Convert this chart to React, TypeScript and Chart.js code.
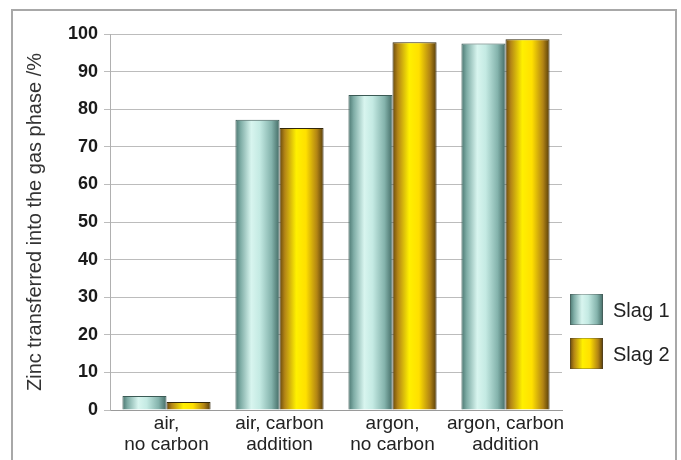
import { useEffect, useRef } from "react";
import { Chart, registerables } from "chart.js";

Chart.register(...registerables);

// Experimental conditions along the x axis (two-line labels)
const categories: string[][] = [
  ["air,", "no carbon"],
  ["air, carbon", "addition"],
  ["argon,", "no carbon"],
  ["argon, carbon", "addition"],
];

const seriesNames = ["Slag 1", "Slag 2"];

// Zinc transferred into the gas phase, %
const slag1Values = [3.7, 77.2, 83.8, 97.5];
const slag2Values = [2.1, 75.0, 97.8, 98.6];

const yMin = 0;
const yMax = 100;
const yStep = 10;

const yAxisTitle = "Zinc transferred into the gas phase /%";

const FONT = "'Liberation Sans', Arial, Helvetica, sans-serif";

// Horizontal shading stops giving each bar a cylinder look
const cylinderStops: [number, string][][] = [
  [
    [0, "#4a7670"],
    [0.12, "#7fada6"],
    [0.36, "#d8f5ef"],
    [0.55, "#c4eae3"],
    [0.82, "#84b3ac"],
    [1, "#436b65"],
  ],
  [
    [0, "#66480d"],
    [0.12, "#b38516"],
    [0.38, "#fff000"],
    [0.6, "#ffe000"],
    [0.85, "#b28414"],
    [1, "#553c0a"],
  ],
];

const edgeColors = ["#3b5a55", "#33270a"];

function makeGradient(
  ctx: CanvasRenderingContext2D,
  x0: number,
  x1: number,
  stops: [number, string][]
) {
  const g = ctx.createLinearGradient(x0, 0, x1, 0);
  stops.forEach(([o, c]) => g.addColorStop(o, c));
  return g;
}

// Replace each bar's flat fill with a shaded gradient spanning its own width
const cylinderFill = {
  id: "cylinderFill",
  beforeDatasetsDraw(chart: any) {
    const ctx = chart.ctx as CanvasRenderingContext2D;
    chart.data.datasets.forEach((_ds: any, di: number) => {
      const meta = chart.getDatasetMeta(di);
      meta.data.forEach((el: any) => {
        const { x, width } = el.getProps(["x", "width"], true);
        el.options = {
          ...el.options,
          backgroundColor: makeGradient(ctx, x - width / 2, x + width / 2, cylinderStops[di]),
        };
      });
    });
  },
};

// Legend with shaded swatches to the right of the plot
const swatchLegend = {
  id: "swatchLegend",
  afterDraw(chart: any) {
    const ctx = chart.ctx as CanvasRenderingContext2D;
    const area = chart.chartArea;
    const boxW = 33;
    const boxH = 31;
    const gap = 44;
    const left = area.right + 8;
    const top = area.top + 260;
    ctx.save();
    chart.data.datasets.forEach((ds: any, i: number) => {
      const y = top + i * gap;
      ctx.fillStyle = makeGradient(ctx, left, left + boxW, cylinderStops[i]);
      ctx.fillRect(left, y, boxW, boxH);
      ctx.strokeStyle = "rgba(60,60,60,0.35)";
      ctx.lineWidth = 1;
      ctx.strokeRect(left + 0.5, y + 0.5, boxW - 1, boxH - 1);
      ctx.fillStyle = "#222";
      ctx.font = `20px ${FONT}`;
      ctx.textBaseline = "middle";
      ctx.textAlign = "left";
      ctx.fillText(ds.label, left + boxW + 10, y + boxH / 2 + 2);
    });
    ctx.restore();
  },
};

export default function App() {
  const canvasRef = useRef<HTMLCanvasElement | null>(null);

  useEffect(() => {
    const canvas = canvasRef.current;
    if (!canvas) return;
    const chart = new Chart(canvas, {
      type: "bar",
      data: {
        labels: categories,
        datasets: [
          {
            label: seriesNames[0],
            data: slag1Values,
            backgroundColor: "#b5dcd6",
            borderColor: edgeColors[0],
            borderWidth: 1,
            categoryPercentage: 0.78,
            barPercentage: 1,
          },
          {
            label: seriesNames[1],
            data: slag2Values,
            backgroundColor: "#f5d800",
            borderColor: edgeColors[1],
            borderWidth: 1,
            categoryPercentage: 0.78,
            barPercentage: 1,
          },
        ],
      },
      options: {
        animation: false,
        responsive: false,
        devicePixelRatio: 1,
        layout: { padding: { left: 20, top: 34, right: 119, bottom: 0 } },
        plugins: {
          legend: { display: false },
          tooltip: { enabled: false },
        },
        scales: {
          x: {
            grid: { display: false },
            border: { color: "#9a9a9a", width: 1 },
            ticks: {
              color: "#222",
              font: { family: FONT, size: 19, lineHeight: 1.1 },
              padding: -5,
              maxRotation: 0,
              autoSkip: false,
            },
            afterFit: (scale: any) => {
              scale.height = 50;
            },
          },
          y: {
            min: yMin,
            max: yMax,
            ticks: {
              stepSize: yStep,
              color: "#1a1a1a",
              font: { family: FONT, size: 18, weight: "bold" },
              padding: 6,
            },
            grid: {
              color: "#bcbcbc",
              lineWidth: 1,
              tickLength: 6,
              drawTicks: true,
            },
            border: { color: "#b0b0b0", width: 1 },
            title: {
              display: true,
              text: yAxisTitle,
              color: "#333",
              font: { family: FONT, size: 20 },
              padding: { top: 3, bottom: 0 },
            },
            afterFit: (scale: any) => {
              scale.width = 90;
            },
          },
        },
      },
      plugins: [cylinderFill, swatchLegend],
    });
    return () => chart.destroy();
  }, []);

  return (
    <div
      style={{
        position: "fixed",
        left: 0,
        top: 0,
        width: 681,
        height: 460,
        background: "#fff",
      }}
    >
      <canvas ref={canvasRef} width={681} height={460} style={{ display: "block" }} />
      <div
        style={{
          position: "absolute",
          left: 11,
          top: 9,
          width: 662,
          height: 470,
          border: "2px solid #a8a8a8",
          pointerEvents: "none",
        }}
      />
    </div>
  );
}
